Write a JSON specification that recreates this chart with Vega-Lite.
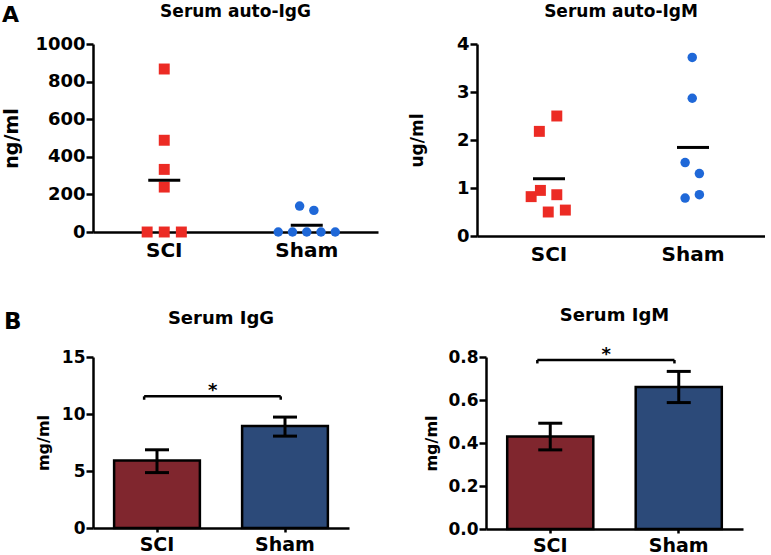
{
  "$schema": "https://vega.github.io/schema/vega-lite/v6.json",
  "padding": {"left": 2, "top": 3, "right": 0, "bottom": 0},
  "background": "white",
  "config": {
    "font": "DejaVu Sans",
    "view": {"stroke": null},
    "axis": {
      "domainColor": "black", "domainWidth": 2.5, "tickColor": "black", "tickWidth": 2.5,
      "labelColor": "black", "labelFontWeight": "bold", "titleColor": "black", "titleFontWeight": "bold",
      "grid": false, "labelOverlap": false
    },
    "title": {"color": "black", "fontWeight": "bold"}
  },
  "resolve": {"scale": {"color": "independent", "xOffset": "independent", "size": "independent", "shape": "independent"}},
  "spacing": 43,
  "vconcat": [
    {
      "title": {"text": "A", "anchor": "start", "frame": "group", "fontSize": 22, "dy": 24, "dx": -91, "offset": 0},
      "spacing": 30,
      "hconcat": [
        {
          "width": 285, "height": 188,
          "title": {"text": "Serum auto-IgG", "fontSize": 17, "offset": 14},
          "data": {"values": [
            {"group": "SCI", "value": 867, "slot": 0},
            {"group": "SCI", "value": 488, "slot": 0},
            {"group": "SCI", "value": 333, "slot": 0},
            {"group": "SCI", "value": 239, "slot": 0},
            {"group": "SCI", "value": 0, "slot": -2.4},
            {"group": "SCI", "value": 0, "slot": 0},
            {"group": "SCI", "value": 0, "slot": 2.4},
            {"group": "Sham", "value": 138, "slot": -1},
            {"group": "Sham", "value": 115, "slot": 1},
            {"group": "Sham", "value": 0, "slot": -4},
            {"group": "Sham", "value": 0, "slot": -2},
            {"group": "Sham", "value": 0, "slot": 0},
            {"group": "Sham", "value": 0, "slot": 2},
            {"group": "Sham", "value": 0, "slot": 4}
          ]},
          "encoding": {
            "x": {"field": "group", "type": "nominal",
              "scale": {"type": "band", "domain": ["SCI", "Sham"], "paddingInner": 0, "paddingOuter": 0},
              "axis": {"title": null, "labelAngle": 0, "labelFontSize": 20, "ticks": false, "labelPadding": 8}}
          },
          "layer": [
            {
              "mark": {"type": "point", "filled": true, "opacity": 1, "strokeWidth": 0},
              "encoding": {
                "y": {"field": "value", "type": "quantitative", "title": "ng/ml",
                  "scale": {"domain": [0, 1000], "nice": false},
                  "axis": {"values": [0, 200, 400, 600, 800, 1000], "format": "d", "labelOverlap": false, "labelFontSize": 18, "titleFontSize": 19, "titlePadding": 13, "tickSize": 7, "labelPadding": 1}},
                "xOffset": {"field": "slot", "type": "quantitative", "scale": {"domain": [-10, 10], "range": [0, 142.5]}},
                "color": {"field": "group", "type": "nominal", "scale": {"domain": ["SCI", "Sham"], "range": ["#ec2b24", "#1f68d8"]}, "legend": null},
                "shape": {"field": "group", "type": "nominal", "scale": {"domain": ["SCI", "Sham"], "range": ["square", "circle"]}, "legend": null},
                "size": {"field": "group", "type": "ordinal", "scale": {"domain": ["SCI", "Sham"], "range": [120, 90]}, "legend": null}
              }
            },
            {
              "transform": [{"aggregate": [{"op": "mean", "field": "value", "as": "mean"}], "groupby": ["group"]}],
              "mark": {"type": "tick", "size": 32, "thickness": 3, "color": "black", "opacity": 1},
              "encoding": {"y": {"field": "mean", "type": "quantitative", "title": "ng/ml",
                "axis": {"values": [0, 200, 400, 600, 800, 1000], "format": "d", "labelOverlap": false, "labelFontSize": 18, "titleFontSize": 19, "titlePadding": 13, "tickSize": 7, "labelPadding": 1}}}
            }
          ]
        },
        {
          "width": 288, "height": 192,
          "title": {"text": "Serum auto-IgM", "fontSize": 17, "offset": 14},
          "data": {"values": [
            {"group": "SCI", "value": 2.50, "slot": 1.2},
            {"group": "SCI", "value": 2.18, "slot": -1.25},
            {"group": "SCI", "value": 0.82, "slot": -2.4},
            {"group": "SCI", "value": 0.95, "slot": -1.1},
            {"group": "SCI", "value": 0.86, "slot": 1.2},
            {"group": "SCI", "value": 0.50, "slot": 0},
            {"group": "SCI", "value": 0.54, "slot": 2.4},
            {"group": "Sham", "value": 3.72, "slot": 0},
            {"group": "Sham", "value": 2.87, "slot": 0},
            {"group": "Sham", "value": 1.53, "slot": -1},
            {"group": "Sham", "value": 1.30, "slot": 1},
            {"group": "Sham", "value": 0.79, "slot": -1},
            {"group": "Sham", "value": 0.86, "slot": 1}
          ]},
          "encoding": {
            "x": {"field": "group", "type": "nominal",
              "scale": {"type": "band", "domain": ["SCI", "Sham"], "paddingInner": 0, "paddingOuter": 0},
              "axis": {"title": null, "labelAngle": 0, "labelFontSize": 20, "ticks": false, "labelPadding": 8}}
          },
          "layer": [
            {
              "mark": {"type": "point", "filled": true, "opacity": 1, "strokeWidth": 0},
              "encoding": {
                "y": {"field": "value", "type": "quantitative", "title": "ug/ml",
                  "scale": {"domain": [0, 4], "nice": false},
                  "axis": {"values": [0, 1, 2, 3, 4], "labelOverlap": false, "labelFontSize": 18, "titleFontSize": 17, "titlePadding": 30, "tickSize": 7, "labelPadding": 1}},
                "xOffset": {"field": "slot", "type": "quantitative", "scale": {"domain": [-10, 10], "range": [0, 144]}},
                "color": {"field": "group", "type": "nominal", "scale": {"domain": ["SCI", "Sham"], "range": ["#ec2b24", "#1f68d8"]}, "legend": null},
                "shape": {"field": "group", "type": "nominal", "scale": {"domain": ["SCI", "Sham"], "range": ["square", "circle"]}, "legend": null},
                "size": {"field": "group", "type": "ordinal", "scale": {"domain": ["SCI", "Sham"], "range": [120, 90]}, "legend": null}
              }
            },
            {
              "transform": [{"aggregate": [{"op": "mean", "field": "value", "as": "mean"}], "groupby": ["group"]}],
              "mark": {"type": "tick", "size": 32, "thickness": 3, "color": "black", "opacity": 1},
              "encoding": {"y": {"field": "mean", "type": "quantitative", "title": "ug/ml",
                "axis": {"values": [0, 1, 2, 3, 4], "labelOverlap": false, "labelFontSize": 18, "titleFontSize": 17, "titlePadding": 30, "tickSize": 7, "labelPadding": 1}}}
            }
          ]
        }
      ]
    },
    {
      "title": {"text": "B", "anchor": "start", "frame": "group", "fontSize": 23, "dy": 27, "dx": -89, "offset": 0},
      "spacing": 74,
      "hconcat": [
        {
          "width": 256, "height": 171,
          "title": {"text": "Serum IgG", "fontSize": 18, "offset": 20},
          "data": {"values": [
            {"group": "SCI", "mean": 5.92, "lo": 4.86, "hi": 6.86, "from": "SCI", "to": "Sham", "level": 11.55, "tip": 11.25, "star": "*"},
            {"group": "Sham", "mean": 8.94, "lo": 8.06, "hi": 9.73}
          ]},
          "encoding": {
            "x": {"field": "group", "type": "nominal",
              "scale": {"type": "band", "domain": ["SCI", "Sham"], "paddingInner": 0.33, "paddingOuter": 0.165},
              "axis": {"title": null, "labelAngle": 0, "labelFontSize": 19, "tickSize": 4, "labelPadding": 3}}
          },
          "layer": [
            {
              "mark": {"type": "bar", "stroke": "black", "strokeWidth": 2.5, "opacity": 1},
              "encoding": {
                "y": {"field": "mean", "type": "quantitative", "title": "mg/ml",
                  "scale": {"domain": [0, 15], "nice": false},
                  "axis": {"values": [0, 5, 10, 15], "labelFontSize": 17, "titleFontSize": 16, "titlePadding": 10, "tickSize": 7, "labelPadding": 1}},
                "color": {"field": "group", "type": "nominal", "scale": {"domain": ["SCI", "Sham"], "range": ["#80262e", "#2c4a79"]}, "legend": null}
              }
            },
            {
              "mark": {"type": "rule", "strokeWidth": 3, "color": "black", "opacity": 1},
              "encoding": {"y": {"field": "lo", "type": "quantitative", "title": "mg/ml"}, "y2": {"field": "hi"}}
            },
            {
              "mark": {"type": "tick", "size": 24, "thickness": 3, "color": "black", "opacity": 1},
              "encoding": {"y": {"field": "hi", "type": "quantitative", "title": "mg/ml"}}
            },
            {
              "mark": {"type": "tick", "size": 24, "thickness": 3, "color": "black", "opacity": 1},
              "encoding": {"y": {"field": "lo", "type": "quantitative", "title": "mg/ml"}}
            },
            {
              "transform": [{"filter": "datum.from != null"}],
              "mark": {"type": "rule", "strokeWidth": 2.5, "color": "black"},
              "encoding": {
                "x": {"field": "from", "type": "nominal", "bandPosition": 0.35},
                "x2": {"field": "to", "bandPosition": 0.45},
                "y": {"field": "level", "type": "quantitative", "title": "mg/ml"}
              }
            },
            {
              "transform": [{"filter": "datum.from != null"}],
              "mark": {"type": "rule", "strokeWidth": 2.5, "color": "black"},
              "encoding": {
                "x": {"field": "from", "type": "nominal", "bandPosition": 0.35},
                "y": {"field": "level", "type": "quantitative", "title": "mg/ml"},
                "y2": {"field": "tip"}
              }
            },
            {
              "transform": [{"filter": "datum.from != null"}],
              "mark": {"type": "rule", "strokeWidth": 2.5, "color": "black"},
              "encoding": {
                "x": {"field": "to", "type": "nominal", "bandPosition": 0.45},
                "y": {"field": "level", "type": "quantitative", "title": "mg/ml"},
                "y2": {"field": "tip"}
              }
            },
            {
              "transform": [{"filter": "datum.from != null"}],
              "mark": {"type": "text", "fontSize": 18, "fontWeight": "bold", "baseline": "alphabetic", "color": "black"},
              "encoding": {
                "x": {"field": "from", "type": "nominal", "bandPosition": 1.15},
                "y": {"field": "level", "type": "quantitative", "title": "mg/ml"},
                "text": {"field": "star"}
              }
            }
          ]
        },
        {
          "width": 257, "height": 172,
          "title": {"text": "Serum IgM", "fontSize": 18, "offset": 21},
          "data": {"values": [
            {"group": "SCI", "mean": 0.43, "lo": 0.368, "hi": 0.492, "from": "SCI", "to": "Sham", "level": 0.786, "tip": 0.770, "star": "*"},
            {"group": "Sham", "mean": 0.661, "lo": 0.588, "hi": 0.733}
          ]},
          "encoding": {
            "x": {"field": "group", "type": "nominal",
              "scale": {"type": "band", "domain": ["SCI", "Sham"], "paddingInner": 0.33, "paddingOuter": 0.165},
              "axis": {"title": null, "labelAngle": 0, "labelFontSize": 19, "tickSize": 4, "labelPadding": 3}}
          },
          "layer": [
            {
              "mark": {"type": "bar", "stroke": "black", "strokeWidth": 2.5, "opacity": 1},
              "encoding": {
                "y": {"field": "mean", "type": "quantitative", "title": "mg/ml",
                  "scale": {"domain": [0, 0.8], "nice": false},
                  "axis": {"values": [0, 0.2, 0.4, 0.6, 0.8], "format": ".1f", "labelFontSize": 17, "titleFontSize": 16, "titlePadding": 8, "tickSize": 7, "labelPadding": 1}},
                "color": {"field": "group", "type": "nominal", "scale": {"domain": ["SCI", "Sham"], "range": ["#80262e", "#2c4a79"]}, "legend": null}
              }
            },
            {
              "mark": {"type": "rule", "strokeWidth": 3, "color": "black", "opacity": 1},
              "encoding": {"y": {"field": "lo", "type": "quantitative", "title": "mg/ml"}, "y2": {"field": "hi"}}
            },
            {
              "mark": {"type": "tick", "size": 24, "thickness": 3, "color": "black", "opacity": 1},
              "encoding": {"y": {"field": "hi", "type": "quantitative", "title": "mg/ml"}}
            },
            {
              "mark": {"type": "tick", "size": 24, "thickness": 3, "color": "black", "opacity": 1},
              "encoding": {"y": {"field": "lo", "type": "quantitative", "title": "mg/ml"}}
            },
            {
              "transform": [{"filter": "datum.from != null"}],
              "mark": {"type": "rule", "strokeWidth": 2.5, "color": "black"},
              "encoding": {
                "x": {"field": "from", "type": "nominal", "bandPosition": 0.35},
                "x2": {"field": "to", "bandPosition": 0.45},
                "y": {"field": "level", "type": "quantitative", "title": "mg/ml"}
              }
            },
            {
              "transform": [{"filter": "datum.from != null"}],
              "mark": {"type": "rule", "strokeWidth": 2.5, "color": "black"},
              "encoding": {
                "x": {"field": "from", "type": "nominal", "bandPosition": 0.35},
                "y": {"field": "level", "type": "quantitative", "title": "mg/ml"},
                "y2": {"field": "tip"}
              }
            },
            {
              "transform": [{"filter": "datum.from != null"}],
              "mark": {"type": "rule", "strokeWidth": 2.5, "color": "black"},
              "encoding": {
                "x": {"field": "to", "type": "nominal", "bandPosition": 0.45},
                "y": {"field": "level", "type": "quantitative", "title": "mg/ml"},
                "y2": {"field": "tip"}
              }
            },
            {
              "transform": [{"filter": "datum.from != null"}],
              "mark": {"type": "text", "fontSize": 18, "fontWeight": "bold", "baseline": "alphabetic", "color": "black"},
              "encoding": {
                "x": {"field": "from", "type": "nominal", "bandPosition": 1.15},
                "y": {"field": "level", "type": "quantitative", "title": "mg/ml"},
                "text": {"field": "star"}
              }
            }
          ]
        }
      ]
    }
  ]
}
